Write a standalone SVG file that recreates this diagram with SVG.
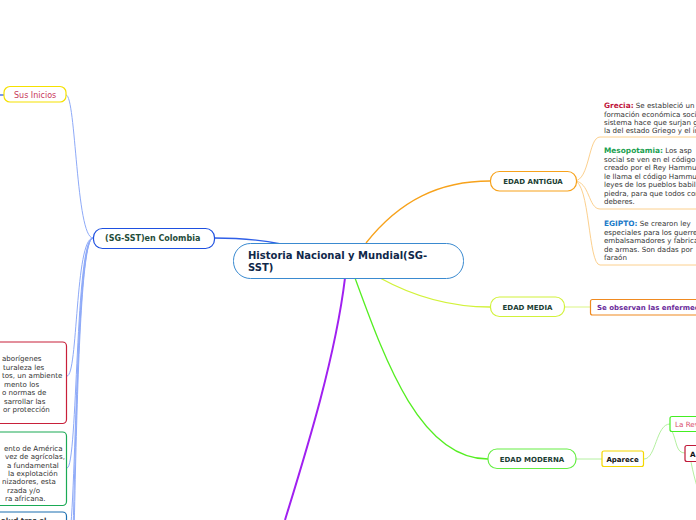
<svg xmlns="http://www.w3.org/2000/svg" width="696" height="520" viewBox="0 0 696 520">
<style>
text{font-family:"DejaVu Sans",Verdana,sans-serif;}
.b{font-weight:bold;}
.lbl{font-size:7px;font-weight:bold;fill:#1b3d33;text-anchor:middle;}
.body{font-size:7.1px;fill:#333;}
.node{fill:#fff;}
</style>
<rect width="696" height="520" fill="#fff"/>
<g id="connectors" fill="none">
  <path d="M214,238 C240,238 262,240 281,244" stroke="#2f5fe8" stroke-width="1.3"/>
  <path d="M0,95 L4,95" stroke="#2f5fe8" stroke-width="1.3"/>
  <g stroke="#8eaaf8" stroke-width="1">
    <path d="M93,238 C76,238 76,95 66,95"/>
    <path d="M93,238 C75,238 78,376 67,376"/>
    <path d="M93,238 C75,238 78,468 67,468"/>
    <path d="M93,238 C74,238 77,545 67,545"/>
    <path d="M93,238 C73,238 76,620 67,620"/>
    <path d="M93,238 C72,238 76,700 67,700"/>
  </g>
  <path d="M366,243 C400,200 440,181 490,181" stroke="#f7a21b" stroke-width="1.3"/>
  <g stroke="#fcd08e" stroke-width="1">
    <path d="M574,181 C590,181 588,137 600,137 H696"/>
    <path d="M574,181 C590,181 588,209 600,209 H696"/>
    <path d="M574,181 C590,181 588,265 600,265 H696"/>
  </g>
  <path d="M380,278 C420,300 455,307 490,307" stroke="#d2f23a" stroke-width="1.3"/>
  <path d="M565,307 H590" stroke="#e4f7a0" stroke-width="1.3"/>
  <path d="M355,278 C385,360 420,459 488,459" stroke="#55ee22" stroke-width="1.3"/>
  <path d="M345,278 C335,360 305,455 285,520" stroke="#a020f0" stroke-width="2"/>
  <g stroke="#b4f0a0" stroke-width="1">
    <path d="M576,459 H602"/>
    <path d="M644,459 C656,459 656,424 670,424"/>
    <path d="M672,431 C677,442 676,453 685,453"/>
    <path d="M691,462 C693,472 695,480 698,490"/>
  </g>
</g>
<g id="central">
  <rect x="233.5" y="243.5" width="230" height="35" rx="17" class="node" stroke="#3a8ad0" stroke-width="1"/>
  <text x="248" y="259" class="b" font-size="10" fill="#10284a">Historia Nacional y Mundial(SG-</text>
  <text x="248" y="271" class="b" font-size="10" fill="#10284a">SST)</text>
</g>
<g id="colombia">
  <rect x="93.5" y="228.5" width="121" height="20" rx="9" class="node" stroke="#1e50e0" stroke-width="1.2"/>
  <text x="105" y="241" class="b" font-size="8" fill="#1f4d3a">(SG-SST)en Colombia</text>
</g>
<g id="sus-inicios">
  <rect x="4" y="86.5" width="62" height="15.5" rx="6" class="node" stroke="#f5e100" stroke-width="1.2"/>
  <text x="14" y="98" font-size="8" fill="#c8385a">Sus Inicios</text>
</g>
<g id="red-box">
  <rect x="-20" y="342" width="86.5" height="81.5" rx="4" class="node" stroke="#c8203a" stroke-width="1.2"/>
  <text class="body"><tspan x="2" y="361">aborígenes</tspan><tspan x="3" y="369.5">turaleza les</tspan><tspan x="2" y="378">tos, un ambiente</tspan><tspan x="4" y="386.5">mento los</tspan><tspan x="2" y="395">o normas de</tspan><tspan x="4" y="403.5">sarrollar las</tspan><tspan x="3" y="412">or protección</tspan></text>
</g>
<g id="green-box">
  <rect x="-20" y="432" width="86.5" height="73.5" rx="4" class="node" stroke="#1aaa55" stroke-width="1.2"/>
  <text class="body"><tspan x="4" y="450.5">ento de América</tspan><tspan x="5" y="459">vez de agrícolas,</tspan><tspan x="7" y="467.5">a fundamental</tspan><tspan x="8" y="475.5">la explotación</tspan><tspan x="2" y="484">nizadores, esta</tspan><tspan x="7" y="492.5">rzada y/o</tspan><tspan x="5" y="501">ra africana.</tspan></text>
</g>
<g id="blue-box">
  <rect x="-20" y="512" width="86.5" height="40" rx="4" class="node" stroke="#1a6fb0" stroke-width="1.2"/>
  <text x="1" y="522.5" class="body b" fill="#111">alud tras el</text>
</g>
<g id="edad-antigua">
  <rect x="490.5" y="171.5" width="86" height="19.5" rx="9" class="node" stroke="#f7a21b" stroke-width="1.2"/>
  <text x="533" y="184" class="lbl">EDAD ANTIGUA</text>
</g>
<g id="grecia">
  <text class="body"><tspan x="604" y="108"><tspan class="b" fill="#c0143c" font-size="7.4">Grecia:</tspan> Se estableció un</tspan><tspan x="604" y="116.5">formación económica social</tspan><tspan x="604" y="125">sistema hace que surjan g</tspan><tspan x="604" y="133">la del estado Griego y el in</tspan></text>
</g>
<g id="mesopotamia">
  <text class="body"><tspan x="604" y="153"><tspan class="b" fill="#1aa050" font-size="7.4">Mesopotamia:</tspan> Los asp</tspan><tspan x="604" y="161.5">social se ven en el código</tspan><tspan x="604" y="170">creado por el Rey Hammu</tspan><tspan x="604" y="178.5">le llama el código Hammu</tspan><tspan x="604" y="187">leyes de los pueblos babil</tspan><tspan x="604" y="195.5">piedra, para que todos con</tspan><tspan x="604" y="204">deberes.</tspan></text>
</g>
<g id="egipto">
  <text class="body"><tspan x="604" y="226"><tspan class="b" fill="#1a7ac8" font-size="7.4">EGIPTO:</tspan> Se crearon ley</tspan><tspan x="604" y="234.5">especiales para los guerre</tspan><tspan x="604" y="243">embalsamadores y fabrica</tspan><tspan x="604" y="251.5">de armas. Son dadas por</tspan><tspan x="604" y="260">faraón</tspan></text>
</g>
<g id="edad-media">
  <rect x="490.5" y="297" width="74" height="19.5" rx="9" class="node" stroke="#d2f23a" stroke-width="1.2"/>
  <text x="527.5" y="310" class="lbl">EDAD MEDIA</text>
</g>
<g id="enfermedades">
  <rect x="590.5" y="299.5" width="130" height="15.5" rx="2" class="node" stroke="#f08a20" stroke-width="1.2"/>
  <text x="597" y="310" class="b" font-size="7" fill="#6a2a9a">Se observan las enfermed</text>
</g>
<g id="edad-moderna">
  <rect x="488" y="449" width="88" height="19.5" rx="9" class="node" stroke="#66ee44" stroke-width="1.2"/>
  <text x="532" y="462" class="lbl">EDAD MODERNA</text>
</g>
<g id="aparece">
  <rect x="602" y="451" width="41.5" height="15.5" rx="2" class="node" stroke="#f5d800" stroke-width="1.2"/>
  <text x="622.5" y="462" class="b" font-size="7" fill="#111" text-anchor="middle">Aparece</text>
</g>
<g id="la-rev">
  <rect x="670" y="416.5" width="60" height="15" rx="2" class="node" stroke="#44ee22" stroke-width="1.2"/>
  <text x="675" y="427" font-size="7.2" fill="#d84a6a">La Rev</text>
</g>
<g id="a-node">
  <rect x="685" y="445.5" width="30" height="16" rx="2" class="node" stroke="#c01838" stroke-width="1.2"/>
  <text x="690" y="457" class="b" font-size="7.2" fill="#111">A</text>
</g>
</svg>
